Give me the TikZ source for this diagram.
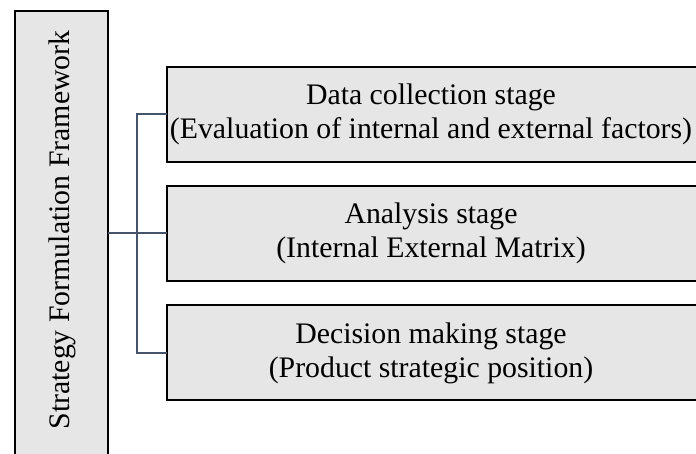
\documentclass[tikz,border=0pt]{standalone}
\usepackage{fontspec}
\setmainfont{Liberation Serif}
\begin{document}
\begin{tikzpicture}[x=1pt,y=-1pt,
  boxstyle/.style={draw=black,line width=1.5pt,fill=boxgray},
  conn/.style={draw=connblue,line width=1.6pt},
  lbl/.style={font=\fontsize{29.8}{34}\selectfont,align=center,text=black,inner sep=0pt}]
\definecolor{boxgray}{HTML}{E6E6E6}
\definecolor{connblue}{HTML}{44546A}
\useasboundingbox (0,0) rectangle (696,453);
\clip (0,0) rectangle (696,453);
% left box
\draw[boxstyle] (15,470) -- (15,11) -- (108,11) -- (108,470);
\node[lbl,rotate=90] (main) at (62,230) {Strategy Formulation Framework};
\coordinate (mainR) at (108,233);
% stage boxes
\draw[boxstyle] (710,67) -- (167,67) -- (167,162) -- (710,162);
\draw[boxstyle] (710,186) -- (167,186) -- (167,281) -- (710,281);
\draw[boxstyle] (710,305) -- (167,305) -- (167,400) -- (710,400);
\coordinate (b1) at (167,114);
\coordinate (b2) at (167,233);
\coordinate (b3) at (167,353);
\node[lbl] (t1) at (431,114.5) {Data collection stage\\(Evaluation of internal and external factors)};
\node[lbl] (t2) at (431,233.5) {Analysis stage\\(Internal External Matrix)};
\node[lbl] (t3) at (431,353) {Decision making stage\\(Product strategic position)};
% connectors
\coordinate (j) at (137,233);
\draw[conn,line width=2pt] (mainR) -- (j);
\draw[conn] (b1) -- (137,114) -- (137,353) -- (b3);
\draw[conn] (j) -- (b2);
\end{tikzpicture}
\end{document}
